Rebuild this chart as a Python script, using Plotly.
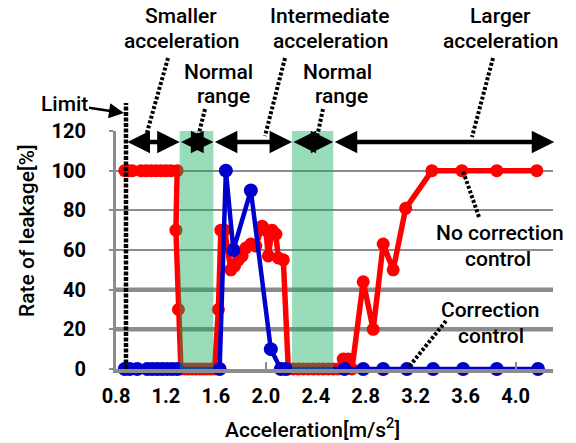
import plotly.graph_objects as go

# Leak rate [%] measured against acceleration [m/s^2]
no_corr_x = [0.87, 0.90, 0.93, 1.00, 1.04, 1.08, 1.12, 1.16, 1.20, 1.24, 1.29,
             1.28, 1.30,
             1.32, 1.35, 1.38, 1.41, 1.44, 1.47, 1.50, 1.53, 1.56, 1.59,
             1.62, 1.64, 1.67, 1.72, 1.75, 1.78, 1.81, 1.84, 1.88, 1.92,
             1.97, 2.00, 2.02, 2.05, 2.08, 2.10, 2.14,
             2.18, 2.22, 2.26, 2.30, 2.34, 2.38, 2.42, 2.46, 2.50, 2.54, 2.58,
             2.62, 2.66, 2.69,
             2.78, 2.86, 2.94, 3.02, 3.12, 3.33, 3.57, 3.85, 4.17]
no_corr_y = [100, 100, 100, 100, 100, 100, 100, 100, 100, 100, 100,
             70, 30,
             0, 0, 0, 0, 0, 0, 0, 0, 0, 0,
             30, 70, 70, 50, 52, 55, 57, 61, 63, 62,
             72, 70, 57, 70, 68, 56, 55,
             0, 0, 0, 0, 0, 0, 0, 0, 0, 0, 0,
             5, 5, 0,
             44, 20, 63, 50, 81, 100, 100, 100, 100]

corr_x = [0.87, 0.91, 0.97, 1.05, 1.09, 1.13, 1.17, 1.21, 1.25, 1.29,
          1.63, 1.68, 1.74, 1.88, 2.04, 2.12, 2.16,
          2.63, 2.78, 2.94, 3.13, 3.34, 3.58, 3.85, 4.18]
corr_y = [0, 0, 0, 0, 0, 0, 0, 0, 0, 0,
          0, 100, 60, 90, 10, 0, 0,
          0, 0, 0, 0, 0, 0, 0, 0]

x_ticks = [0.8, 1.2, 1.6, 2.0, 2.4, 2.8, 3.2, 3.6, 4.0]
x_tick_text = ["0.8", "1.2", "1.6", "2.0", "2.4", "2.8", "3.2", "3.6", "4.0"]
x_marks = [2.0, 4.0]
y_ticks = [0, 20, 40, 60, 80, 100, 120]
heavy_grid = [20, 40]

X_MIN, X_MAX = 0.8, 4.3
Y_MIN, Y_MAX = 0, 120

limit_acc = 0.88
normal_ranges = [(1.31, 1.58), (2.21, 2.54)]
# acceleration regions marked with double arrows
regions = [(limit_acc, 1.31), (1.31, 1.58), (1.58, 2.21), (2.21, 2.54), (2.54, 4.31)]
arrow_level = 114.5

W, H = 576, 443
ML, MR, MT, MB = 116, 23, 131, 74
PW, PH = W - ML - MR, H - MT - MB


def px(x):
    return (x - ML) / PW


def py(y):
    return (H - MB - y) / PH


def dx(v):
    return (v - X_MIN) / (X_MAX - X_MIN)


FONT = "Roboto, Arial, sans-serif"
GRID = "#8c8c8c"

fig = go.Figure()
fig.add_trace(go.Scatter(
    x=no_corr_x, y=no_corr_y, mode="lines+markers", name="No correction control",
    line=dict(color="#ff0000", width=5.5),
    marker=dict(symbol="circle", size=13, color="#ff0000"),
    cliponaxis=False,
))
fig.add_trace(go.Scatter(
    x=corr_x, y=corr_y, mode="lines+markers", name="Correction control",
    line=dict(color="#0000cc", width=4.5),
    marker=dict(symbol="circle", size=14, color="#0000cc"),
    cliponaxis=False,
))

shapes = []
# heavier gridlines
for g in heavy_grid:
    shapes.append(dict(type="line", xref="paper", yref="y", x0=0, x1=1,
                       y0=g, y1=g, layer="below",
                       line=dict(color=GRID, width=4.5)))

# normal-range bands, translucent over the data
for a, b in normal_ranges:
    shapes.append(dict(type="rect", xref="paper", yref="paper",
                       x0=dx(a), x1=dx(b), y0=0, y1=1, layer="above",
                       fillcolor="rgba(18,174,92,0.43)", line=dict(width=0)))

# limit marker
shapes.append(dict(type="line", xref="paper", yref="paper",
                   x0=dx(limit_acc), x1=dx(limit_acc), y0=0, y1=py(103),
                   line=dict(color="black", width=4.5, dash="4px,1.5px")))

# leader lines from the labels
leaders = [
    ((168, 58), (146, 136)),
    ((205, 109), (198, 137)),
    ((285, 58), (265, 136)),
    ((323, 109), (317, 137)),
    ((493, 58), (472, 137)),
    ((479, 217), (463, 171)),
    ((446, 321), (408, 368)),
]
for (x0, y0), (x1, y1) in leaders:
    shapes.append(dict(type="line", xref="paper", yref="paper",
                       x0=px(x0), y0=py(y0), x1=px(x1), y1=py(y1),
                       line=dict(color="black", width=4, dash="3px,2px")))

annotations = []
for a, b in regions:
    annotations.append(dict(
        x=b, y=arrow_level, ax=a, ay=arrow_level, xref="x", yref="y",
        axref="x", ayref="y", text="", showarrow=True,
        arrowhead=2, startarrowhead=2, arrowside="end+start",
        arrowsize=1.0, startarrowsize=1.0, arrowwidth=4.5, arrowcolor="black",
        standoff=0, startstandoff=0,
    ))

labels = [
    ("Smaller", 181, 16), ("acceleration", 181, 41),
    ("Normal", 218, 72), ("range", 223, 96),
    ("Intermediate", 330, 16), ("acceleration", 330, 41),
    ("Normal", 337, 72), ("range", 341, 96),
    ("Larger", 500, 16), ("acceleration", 500, 41),
    ("No correction", 500, 233), ("control", 498, 259),
    ("Correction", 490, 310), ("control", 491, 336),
]
TEXT_FONT = dict(family=FONT, size=21, color="black", weight=500)
for t, x, y in labels:
    annotations.append(dict(
        x=px(x), y=py(y), xref="paper", yref="paper", text=t, showarrow=False,
        xanchor="center", yanchor="middle", font=TEXT_FONT,
    ))

annotations.append(dict(
    x=px(124), y=py(113), xref="paper", yref="paper", text="Limit",
    showarrow=True, ax=-60, ay=-9, arrowhead=2, arrowsize=1.2,
    arrowwidth=2.5, arrowcolor="black", standoff=0, font=TEXT_FONT,
))

# axis titles
annotations.append(dict(
    x=px(312), y=py(428), xref="paper", yref="paper",
    xanchor="center", yanchor="middle",
    text="Acceleration[m/s<sup>2</sup>]", showarrow=False, font=TEXT_FONT,
))
annotations.append(dict(
    x=px(27), y=py(231), xref="paper", yref="paper",
    xanchor="center", yanchor="middle",
    text="Rate of leakage[%]", showarrow=False, textangle=-90, font=TEXT_FONT,
))

fig.update_layout(
    width=W, height=H,
    margin=dict(l=ML, r=MR, t=MT, b=MB),
    paper_bgcolor="white", plot_bgcolor="white",
    showlegend=False,
    shapes=shapes, annotations=annotations,
    xaxis=dict(
        range=[X_MIN, X_MAX], tickmode="array", tickvals=x_ticks,
        ticktext=x_tick_text, showgrid=False, zeroline=False,
        showline=True, linecolor=GRID, linewidth=4, ticks="",
        ticklabelstandoff=6,
        minor=dict(tickmode="array", tickvals=x_marks, ticks="inside",
                   ticklen=7, tickwidth=2, tickcolor=GRID, showgrid=False),
        tickfont=dict(family=FONT, size=20, color="black", weight="bold"),
    ),
    yaxis=dict(
        range=[Y_MIN, Y_MAX], tickmode="array", tickvals=y_ticks,
        showgrid=True, gridcolor=GRID, gridwidth=2, zeroline=False,
        showline=True, linecolor=GRID, linewidth=3,
        ticks="outside", ticklen=4, tickwidth=2, tickcolor=GRID,
        ticklabelstandoff=19,
        tickfont=dict(family=FONT, size=20, color="black", weight="bold"),
    ),
)

fig.write_html("out.html")
